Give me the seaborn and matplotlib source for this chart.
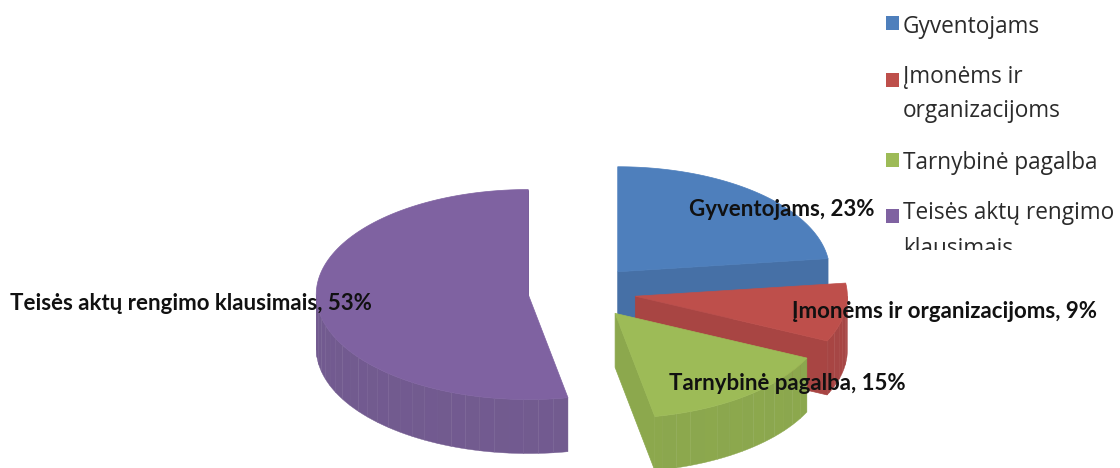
import numpy as np
import matplotlib
matplotlib.use("Agg")
import matplotlib.pyplot as plt
from matplotlib.patches import Polygon, Rectangle
import seaborn as sns

# Chart data
categories = ["Gyventojams", "Įmonėms ir organizacijoms", "Tarnybinė pagalba", "Teisės aktų rengimo klausimais"]
shares = [23, 9, 15, 53]
legend_lines = [["Gyventojams"], ["Įmonėms ir", "organizacijoms"], ["Tarnybinė pagalba"], ["Teisės aktų rengimo", "klausimais"]]

top_colors = ["#4E7FBC", "#BE4F4B", "#9DBB57", "#7F62A1"]
side_colors = ["#4670A6", "#A84543", "#8CA84D", "#725A90"]

sns.set_theme(style="white")
plt.rcParams["font.family"] = ["Lato", "DejaVu Sans"]

# Pie geometry in pixels
cx, cy = 582, 292
rx, ry = 212, 105
depth = 54
explode = 54
facet_step = 4.0

fig = plt.figure(figsize=(11.2, 4.68), dpi=100)
ax = fig.add_axes([0, 0, 1, 1])
ax.set_xlim(0, 1120)
ax.set_ylim(468, 0)
ax.axis("off")


def rim(ox, oy, angles):
    # angles run clockwise from 12 o'clock
    rad = np.radians(angles)
    return np.column_stack([ox + rx * np.sin(rad), oy - ry * np.cos(rad)])


# start/end angles of every slice
edges = np.concatenate([[0], np.cumsum(shares)]) * 360 / sum(shares)

# back to front: purple, blue, red, green
for i in [3, 0, 1, 2]:
    a0, a1 = edges[i], edges[i + 1]
    mid = np.radians((a0 + a1) / 2)
    ox = cx + explode * np.sin(mid)
    oy = cy - explode * 0.5 * np.cos(mid)
    end_pt = rim(ox, oy, [a1])[0]

    # cut face on the clockwise end
    cut = [(ox, oy), end_pt, end_pt + (0, depth), (ox, oy + depth)]
    ax.add_patch(Polygon(cut, closed=True, fc=side_colors[i], ec=side_colors[i], lw=0.5, zorder=i + 1))

    # outer wall, only the part turned to the viewer
    lo, hi = max(a0, 90), min(a1, 270)
    if hi > lo:
        steps = np.arange(lo, hi, facet_step)
        for k, s in enumerate(steps):
            e = min(s + facet_step, hi)
            arc = rim(ox, oy, np.linspace(s, e, 4))
            wall = np.vstack([arc, arc[::-1] + (0, depth)])
            shade = side_colors[i] if k % 2 else sns.desaturate(side_colors[i], 0.97)
            ax.add_patch(Polygon(wall, closed=True, fc=shade, ec=shade, lw=0.3, zorder=i + 1))

    # top face
    arc = rim(ox, oy, np.linspace(a0, a1, 120))
    top = np.vstack([[ox, oy], arc])
    ax.add_patch(Polygon(top, closed=True, fc=top_colors[i], ec=top_colors[i], lw=0.5, zorder=i + 1))

# data labels
label_pos = [(782, 210), (945, 312), (787, 384), (191, 304)]
for name, val, pos in zip(categories, shares, label_pos):
    ax.text(pos[0], pos[1], f"{name}, {val}%", fontsize=16, fontweight="bold", color="#111111",
            ha="center", va="center", zorder=10)

# legend, the last line is cut off in the original
clip = Rectangle((880, 0), 240, 250, transform=ax.transData)
swatch_y = [16, 73, 153, 209]
text_y = [[27], [77, 111], [163], [213, 249]]
for i in range(4):
    ax.add_patch(Rectangle((886, swatch_y[i]), 13, 13.5, fc=top_colors[i], ec="none", zorder=10))
    for line, y in zip(legend_lines[i], text_y[i]):
        t = ax.text(903, y, line, fontsize=16.3, family="Open Sans", color="#2b2b2b",
                    ha="left", va="center", zorder=10)
        t.set_clip_path(clip)
        t.set_clip_on(True)

fig.savefig("out.png", dpi=100)
